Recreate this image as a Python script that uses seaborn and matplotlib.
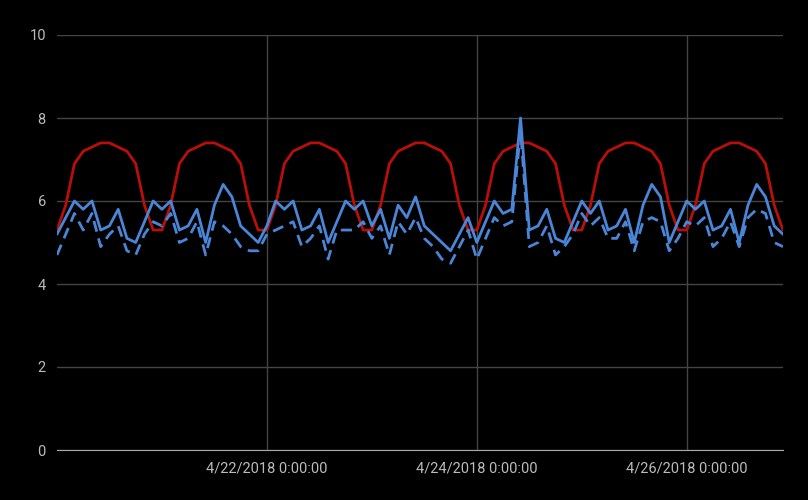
import pandas as pd
import matplotlib.pyplot as plt
import seaborn as sns

# 2-hourly samples starting 4/20/2018 0:00
red_vals = [
    5.3, 5.9, 6.9, 7.2, 7.3, 7.4, 7.4, 7.3, 7.2, 6.9, 5.9, 5.3,
    5.3, 5.9, 6.9, 7.2, 7.3, 7.4, 7.4, 7.3, 7.2, 6.9, 5.9, 5.3,
    5.3, 5.9, 6.9, 7.2, 7.3, 7.4, 7.4, 7.3, 7.2, 6.9, 5.9, 5.3,
    5.3, 5.9, 6.9, 7.2, 7.3, 7.4, 7.4, 7.3, 7.2, 6.9, 5.9, 5.3,
    5.3, 5.9, 6.9, 7.2, 7.3, 7.4, 7.4, 7.3, 7.2, 6.9, 5.9, 5.3,
    5.3, 5.9, 6.9, 7.2, 7.3, 7.4, 7.4, 7.3, 7.2, 6.9, 5.9, 5.3,
    5.3, 5.9, 6.9, 7.2, 7.3, 7.4, 7.4, 7.3, 7.2, 6.9, 5.9, 5.3,
]
solid_vals = [
    5.2, 5.6, 6.0, 5.8, 6.0, 5.3, 5.4, 5.8, 5.1, 5.0, 5.5, 6.0,
    5.8, 6.0, 5.3, 5.4, 5.8, 5.0, 5.9, 6.4, 6.1, 5.4, 5.2, 5.0,
    5.4, 6.0, 5.8, 6.0, 5.3, 5.4, 5.8, 5.0, 5.5, 6.0, 5.8, 6.0,
    5.4, 5.8, 5.1, 5.9, 5.6, 6.1, 5.4, 5.2, 5.0, 4.8, 5.2, 5.6,
    5.0, 5.5, 6.0, 5.7, 5.8, 8.0, 5.3, 5.4, 5.8, 5.1, 5.0, 5.5,
    6.0, 5.7, 6.0, 5.3, 5.4, 5.8, 5.0, 5.9, 6.4, 6.1, 5.0, 5.5,
    6.0, 5.8, 6.0, 5.3, 5.4, 5.8, 5.0, 5.9, 6.4, 6.1, 5.4, 5.2,
]
dashed_vals = [
    4.7, 5.2, 5.7, 5.3, 5.7, 4.9, 5.2, 5.4, 4.8, 4.7, 5.2, 5.5,
    5.4, 5.7, 5.0, 5.1, 5.5, 4.7, 5.5, 5.4, 5.2, 4.9, 4.8, 4.8,
    5.2, 5.3, 5.4, 5.5, 4.9, 5.1, 5.4, 4.6, 5.3, 5.3, 5.3, 5.5,
    5.1, 5.4, 4.7, 5.5, 5.2, 5.6, 5.1, 4.9, 4.6, 4.5, 4.9, 5.3,
    4.6, 5.1, 5.6, 5.4, 5.5, 7.7, 4.9, 5.0, 5.4, 4.7, 4.9, 5.2,
    5.7, 5.4, 5.6, 5.1, 5.1, 5.5, 4.8, 5.5, 5.6, 5.5, 4.8, 5.1,
    5.5, 5.4, 5.6, 4.9, 5.1, 5.5, 4.9, 5.6, 5.8, 5.7, 5.0, 4.9,
]
times = pd.date_range("2018-04-20 00:00", periods=len(red_vals), freq="2h")
tick_dates = pd.to_datetime(["2018-04-22", "2018-04-24", "2018-04-26"])

df = pd.concat([
    pd.DataFrame({"t": times, "v": red_vals, "s": "red"}),
    pd.DataFrame({"t": times, "v": solid_vals, "s": "solid"}),
    pd.DataFrame({"t": times, "v": dashed_vals, "s": "dashed"}),
])

sns.set_style("dark")
plt.rcParams["font.family"] = ["Roboto", "DejaVu Sans"]

fig = plt.figure(figsize=(8.08, 5.0), dpi=100, facecolor="black")
ax = fig.add_axes([0.0705, 0.1, 0.8985, 0.83], facecolor="black")

sns.lineplot(
    data=df, x="t", y="v", hue="s", style="s",
    palette={"red": "#b80f0a", "solid": "#4a86d8", "dashed": "#4a86d8"},
    dashes={"red": "", "solid": "", "dashed": (4, 2.5)},
    linewidth=2, legend=False, ax=ax,
)

ax.set_ylim(0, 10)
ax.set_yticks([0, 2, 4, 6, 8, 10])
ax.set_xlim(times[0], times[-1])
ax.set_xticks(tick_dates)
ax.set_xticklabels([d.strftime("%-m/%-d/%Y 0:00:00") for d in tick_dates])
ax.grid(True, color="#444444", linewidth=1)
ax.set_xlabel("")
ax.set_ylabel("")
ax.tick_params(colors="#bbbbbb", labelsize=10.5, length=0, pad=8)
for side in ["top", "right", "left"]:
    ax.spines[side].set_visible(False)
ax.spines["bottom"].set_color("#aaaaaa")

fig.savefig("out.png", dpi=100, facecolor="black")
